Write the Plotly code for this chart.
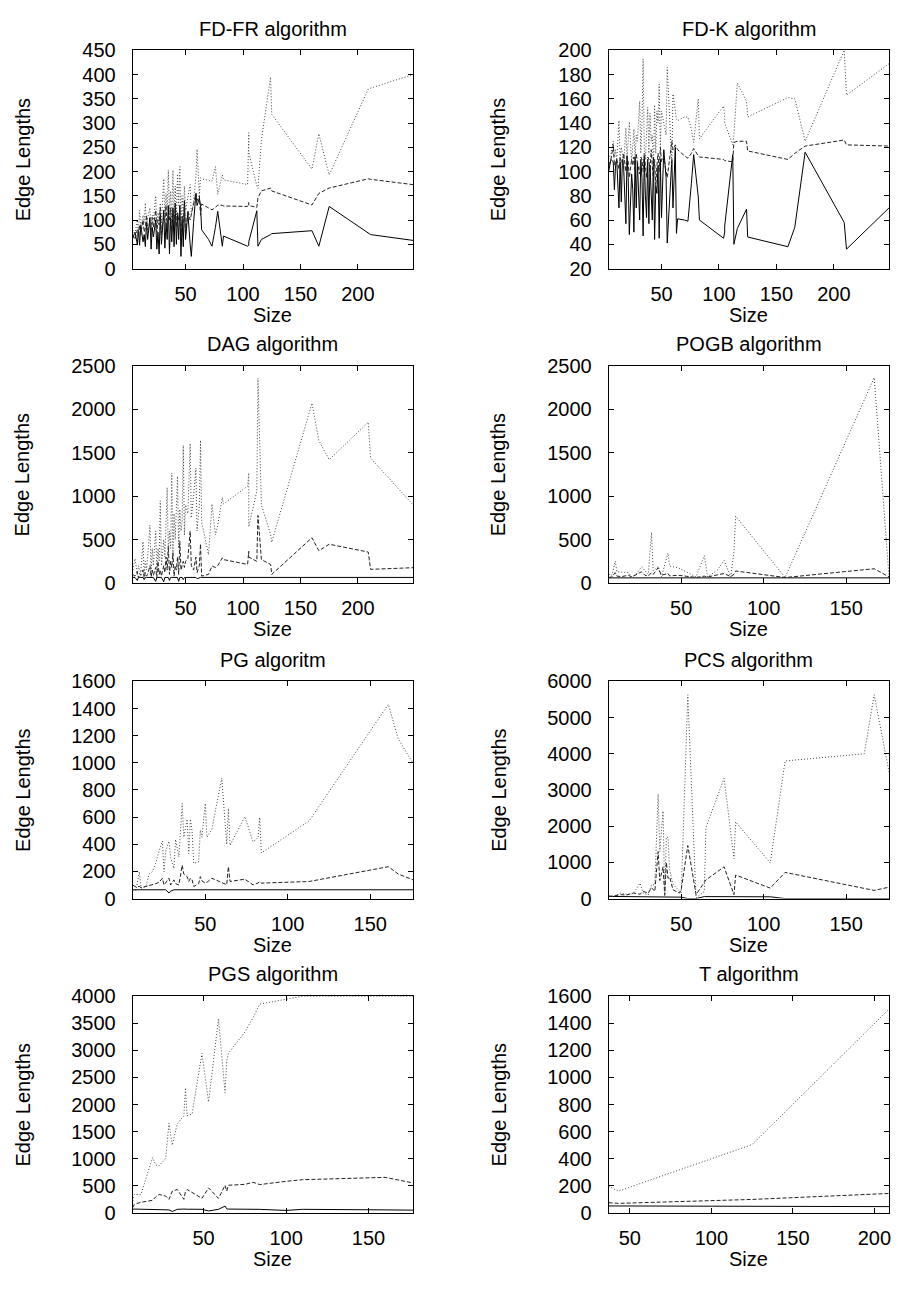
import plotly.graph_objects as go

# ---------------- data ----------------
titles = ["FD-FR algorithm", "FD-K algorithm", "DAG algorithm", "POGB algorithm",
          "PG algoritm", "PCS algorithm", "PGS algorithm", "T algorithm"]

# sizes for FD-FR, FD-K and DAG
x_top = [4, 6, 8, 9, 10, 11, 13, 14, 15, 16, 17, 19, 20, 21, 22, 24, 25, 26, 27, 28, 29, 31, 32, 33,
         34, 35, 36, 37, 38, 39, 40, 41, 42, 43, 44, 45, 46, 47, 48, 49, 50, 52, 54, 55, 57, 59, 60, 62,
         63, 64, 70, 73, 76, 78, 82, 83, 104, 105, 105, 112, 113, 116, 124, 125, 160, 166, 175, 209, 211, 248]

fdfr_solid = [62, 75, 50, 80, 48, 90, 55, 70, 45, 95, 60, 105, 40, 85, 65, 100, 40, 75, 30, 110, 50, 120, 42, 95,
              60, 130, 30, 105, 55, 125, 45, 135, 50, 110, 60, 130, 25, 100, 45, 140, 60, 115, 50, 25, 95, 155, 130, 145,
              130, 80, 60, 46, 85, 118, 46, 67, 46, 48, 55, 119, 46, 60, 70, 72, 78, 46, 128, 72, 70, 58]
fdfr_dashed = [70, 60, 80, 65, 90, 70, 100, 75, 85, 110, 80, 95, 70, 105, 85, 120, 75, 100, 90, 125, 70, 110, 95, 130,
               80, 115, 100, 125, 70, 120, 90, 130, 85, 115, 100, 125, 60, 110, 95, 130, 70, 120, 100, 110, 130, 155, 140, 150,
               110, 133, 125, 121, 126, 131, 130, 129, 128, 136, 130, 126, 146, 160, 166, 160, 131, 155, 166, 185, 184, 173]
fdfr_dotted = [80, 70, 100, 75, 120, 85, 110, 95, 135, 90, 105, 125, 80, 110, 100, 150, 90, 115, 100, 135, 95, 185, 100, 155,
               120, 203, 110, 160, 95, 203, 120, 170, 100, 195, 130, 210, 90, 150, 110, 170, 120, 145, 173, 110, 140, 190, 246, 150,
               187, 185, 182, 180, 210, 153, 193, 183, 173, 280, 240, 170, 165, 265, 395, 318, 205, 278, 193, 370, 372, 400]

fdk_solid = [100, 110, 108, 85, 105, 110, 70, 108, 75, 110, 105, 57, 113, 95, 48, 98, 85, 50, 112, 70, 108, 60, 110, 95,
             47, 112, 80, 62, 110, 57, 105, 75, 60, 112, 44, 88, 82, 105, 45, 110, 62, 118, 95, 41, 80, 110, 70, 120,
             49, 61, 60, 59, 90, 114, 79, 60, 45, 50, 55, 114, 40, 53, 69, 46, 38, 54, 116, 58, 36, 70]
fdk_dashed = [105, 110, 122, 105, 108, 110, 102, 112, 108, 106, 115, 100, 112, 108, 95, 110, 105, 112, 100, 115, 108, 98, 112, 110,
              100, 115, 105, 95, 112, 110, 100, 118, 105, 92, 110, 88, 105, 115, 100, 120, 108, 112, 100, 95, 110, 125, 118, 122,
              120, 118, 113, 111, 115, 119, 113, 112, 110, 109, 109, 108, 124, 125, 125, 117, 110, 115, 121, 126, 122, 121]
fdk_dotted = [110, 115, 125, 112, 118, 108, 142, 110, 120, 115, 105, 136, 110, 125, 141, 108, 120, 135, 110, 130, 125, 158, 115, 140,
              193, 120, 110, 135, 153, 115, 148, 125, 130, 100, 155, 115, 150, 140, 172, 120, 150, 140, 130, 186, 140, 105, 164, 150,
              143, 142, 145, 145, 135, 124, 160, 127, 154, 145, 140, 122, 130, 173, 158, 145, 161, 160, 125, 200, 163, 189]

dag_solid = [65, 65, 30, 65, 65, 65, 65, 40, 65, 65, 65, 65, 65, 65, 65, 20, 65, 65, 65, 65, 65, 15, 65, 65,
             65, 65, 30, 65, 65, 65, 65, 65, 65, 65, 20, 65, 65, 65, 40, 65, 65, 65, 65, 65, 65, 65, 50, 65,
             65, 65, 65, 65, 65, 65, 65, 65, 65, 65, 65, 65, 65, 65, 65, 65, 65, 65, 65, 65, 65, 65]
dag_dashed = [100, 80, 130, 60, 110, 90, 150, 60, 120, 80, 100, 200, 70, 150, 90, 180, 60, 250, 100, 150, 80, 200, 120, 300,
              150, 430, 100, 250, 180, 350, 80, 200, 150, 300, 100, 480, 150, 200, 250, 180, 250, 280, 598, 200, 150, 300, 120, 200,
              450, 80, 100, 195, 180, 200, 290, 270, 215, 365, 300, 250, 778, 270, 215, 100, 522, 372, 447, 357, 158, 177]
dag_dotted = [150, 280, 100, 200, 150, 120, 477, 100, 250, 150, 300, 665, 120, 400, 200, 598, 150, 400, 250, 947, 200, 500, 300, 700,
              1098, 350, 600, 400, 1267, 300, 800, 500, 900, 1229, 400, 850, 600, 700, 1586, 550, 900, 800, 1605, 750, 1000, 1323, 600, 900,
              1643, 703, 327, 910, 553, 665, 985, 910, 1116, 1267, 647, 1060, 2357, 900, 560, 470, 2070, 1640, 1420, 1850, 1440, 900]

x_pogb = [6, 8, 10, 11, 14, 18, 20, 23, 26, 28, 30, 32, 33, 36, 38, 42, 43, 48, 55, 59, 64, 66, 72, 76, 80, 82, 83, 113, 167, 176]
pogb_solid = [60] * 30
pogb_dashed = [65, 70, 120, 80, 75, 90, 70, 100, 130, 90, 80, 120, 100, 177, 90, 110, 82, 90, 75, 65, 80, 70, 95, 109, 75, 100, 139, 64, 165, 71]
pogb_dotted = [100, 90, 252, 130, 125, 120, 70, 110, 188, 140, 100, 583, 139, 190, 70, 346, 195, 177, 110, 71, 316, 71, 150, 260, 71, 365, 770, 64, 2364, 71]

x_pg = [6, 8, 10, 11, 14, 16, 18, 20, 22, 24, 25, 26, 28, 29, 31, 32, 34, 36, 37, 39, 40, 41, 42, 43, 46, 47, 48, 50, 51, 54,
        60, 63, 64, 65, 74, 79, 82, 83, 84, 113, 161, 167, 176]
pg_solid = [65] * 12 + [41, 55] + [65] * 29
pg_dashed = [100, 85, 90, 80, 89, 95, 100, 110, 120, 150, 100, 120, 150, 100, 138, 110, 100, 246, 180, 162, 126, 150, 138, 89, 110, 162, 130, 114, 120, 150,
             120, 102, 235, 126, 143, 101, 115, 126, 114, 126, 235, 181, 138]
pg_dotted = [65, 60, 198, 77, 90, 181, 200, 263, 350, 423, 198, 350, 423, 300, 222, 435, 307, 701, 452, 585, 331, 585, 500, 259, 271, 505, 452, 701, 452, 512,
             887, 400, 665, 392, 604, 416, 452, 597, 336, 573, 1431, 1177, 996]

x_pcs = [6, 9, 13, 17, 21, 25, 27, 30, 32, 34, 36, 37, 39, 40, 41, 42, 43, 45, 49, 50, 54, 59, 64, 65, 76, 82, 83, 104, 113, 161, 167, 176]
pcs_solid = [60, 58, 55, 52, 50, 48, 46, 45, 44, 43, 42, 42, 41, 40, 40, 40, 40, 40, 40, 40, 0, 0, 55, 55, 55, 55, 55, 50, 0, 0, 0, 0]
pcs_dashed = [63, 70, 109, 100, 154, 120, 200, 150, 300, 200, 1300, 500, 877, 100, 1000, 561, 600, 244, 154, 250,
              1466, 109, 450, 516, 877, 109, 651, 290, 724, 280, 226, 316]
pcs_dotted = [81, 60, 154, 120, 136, 425, 150, 100, 380, 380, 2887, 1300, 2416, 63, 1700, 1692, 787, 400, 200, 154,
              5629, 18, 199, 1964, 3321, 1104, 2118, 986, 3801, 4000, 5629, 3502]

x_pgs = [7, 8, 12, 19, 21, 23, 27, 29, 31, 34, 38, 39, 40, 43, 49, 53, 59, 63, 64, 65, 75, 80, 84, 100, 110, 160, 177]
pgs_solid = [70, 75, 72, 72, 72, 72, 72, 60, 30, 70, 75, 70, 72, 72, 70, 40, 70, 130, 80, 75, 75, 72, 70, 50, 70, 60, 55]
pgs_dashed = [103, 163, 200, 236, 300, 344, 314, 254, 405, 435, 254, 400, 435, 380, 272, 465, 272, 513, 405, 513, 530, 568, 526, 586, 616, 659, 556]
pgs_dotted = [224, 344, 344, 1021, 888, 870, 1009, 1655, 1251, 1643, 1794, 2308, 1794, 1825, 2942, 2048, 3577, 2217, 2800, 2942,
              3335, 3600, 3849, 3939, 3995, 3995, 3995]

x_t = [37, 43, 125, 209]
t_solid = [53, 53, 52, 48]
t_dashed = [77, 72, 101, 145]
t_dotted = [198, 162, 505, 1503]

x_ranges = [[4, 248], [4, 248], [4, 248], [6, 176], [6, 176], [6, 176], [7, 177], [37, 209]]
y_ranges = [[0, 450], [20, 200], [0, 2500], [0, 2500], [0, 1600], [0, 6000], [0, 4000], [0, 1600]]
y_dticks = [50, 20, 500, 500, 200, 1000, 500, 200]

x_label = "Size"
y_label = "Edge Lengths"

panels = [
    (x_top, fdfr_solid, fdfr_dashed, fdfr_dotted),
    (x_top, fdk_solid, fdk_dashed, fdk_dotted),
    (x_top, dag_solid, dag_dashed, dag_dotted),
    (x_pogb, pogb_solid, pogb_dashed, pogb_dotted),
    (x_pg, pg_solid, pg_dashed, pg_dotted),
    (x_pcs, pcs_solid, pcs_dashed, pcs_dotted),
    (x_pgs, pgs_solid, pgs_dashed, pgs_dotted),
    (x_t, t_solid, t_dashed, t_dotted),
]

# ---------------- layout geometry (pixels) ----------------
W, H = 898, 1290
col_px = [(133, 414), (610, 891)]
row_px = [(40, 262), (361, 582), (682, 903), (1002, 1223)]
FONT = "Liberation Sans, Arial, Helvetica, sans-serif"
FS = 20


def fx(p):
    return min(1.0, max(0.0, p / W))


def fy(p):
    return min(1.0, max(0.0, 1 - p / H))


line_styles = [
    dict(color="black", width=1, dash="solid"),
    dict(color="#222222", width=1, dash="4px,2px"),
    dict(color="#444444", width=1, dash="1px,2px"),
]

fig = go.Figure()
layout = dict(width=W, height=H, margin=dict(l=0, r=0, t=0, b=0, pad=0),
              paper_bgcolor="white", plot_bgcolor="white",
              font=dict(family=FONT, size=FS, color="black"), showlegend=False)
annotations = []

for i, (xs, s1, s2, s3) in enumerate(panels):
    n = i + 1
    r, c = divmod(i, 2)
    x0, x1 = col_px[c]
    y0, y1 = row_px[r]
    xa = "x" if n == 1 else f"x{n}"
    ya = "y" if n == 1 else f"y{n}"
    for vals, st in zip([s1, s2, s3], line_styles):
        fig.add_trace(go.Scatter(x=xs, y=vals, mode="lines", line=st,
                                 xaxis=xa, yaxis=ya, hoverinfo="skip"))
    common = dict(showline=True, linecolor="black", linewidth=1, mirror="ticks",
                  ticks="inside", ticklen=5, tickwidth=1, tickcolor="black",
                  showgrid=False, zeroline=False, tickfont=dict(family=FONT, size=FS))
    layout["xaxis" if n == 1 else f"xaxis{n}"] = dict(
        domain=[fx(x0), fx(x1)], range=x_ranges[i], tick0=0, dtick=50,
        anchor=ya, ticklabelstandoff=7, **common)
    layout["yaxis" if n == 1 else f"yaxis{n}"] = dict(
        domain=[fy(y1), fy(y0)], range=y_ranges[i], tick0=0, dtick=y_dticks[i],
        anchor=xa, ticklabelstandoff=12, **common)
    cx = fx((x0 + x1) / 2)
    annotations.append(dict(text=titles[i], x=cx, y=fy(y0 - 22), xref="paper", yref="paper",
                            xanchor="center", yanchor="middle", showarrow=False,
                            font=dict(family=FONT, size=FS)))
    annotations.append(dict(text=x_label, x=cx, y=fy(y1 + 47), xref="paper", yref="paper",
                            xanchor="center", yanchor="middle", showarrow=False,
                            font=dict(family=FONT, size=FS)))
    annotations.append(dict(text=y_label, x=fx(x0 - 110), y=fy((y0 + y1) / 2),
                            xref="paper", yref="paper", xanchor="center", yanchor="middle",
                            textangle=-90, showarrow=False, font=dict(family=FONT, size=FS)))

layout["annotations"] = annotations
fig.update_layout(**layout)

# pin the graph to the page's top-left corner so the page is exactly figure-sized
pin = ("document.body.style.margin='0';"
       "var d=document.getElementById('{plot_id}');"
       "d.style.position='fixed';d.style.left='0px';d.style.top='0px';")
fig.write_html("out.html", post_script=pin, config={"displayModeBar": False})
